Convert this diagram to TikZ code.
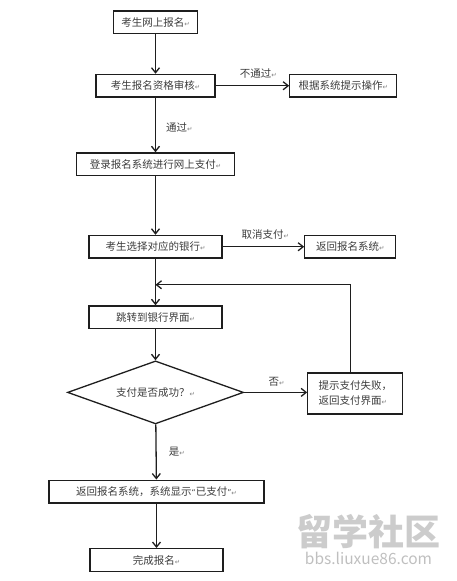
\documentclass[tikz,border=0pt]{standalone}
\usepackage{fontspec}
\setmainfont{Noto Sans CJK SC}
\newfontfamily\markfont{DejaVu Sans}
\usetikzlibrary{arrows.meta,positioning,shapes.geometric}
\definecolor{inkline}{HTML}{1E1E1E}
\definecolor{inktext}{HTML}{3C3C3C}
\newcommand{\retmark}{{\markfont\fontsize{6.5}{6.5}\selectfont\textcolor{gray}{↵}}}
\newcommand{\thinquote}[1]{{\markfont\fontsize{8}{8}\selectfont #1}}
\tikzset{
  stepbox/.style={
    rectangle, draw=inkline, line width=1.3pt,
    minimum height=22.7pt, inner sep=2pt,
    font=\fontsize{10.5}{15}\selectfont, text=inktext, align=center
  },
  choicebox/.style={
    diamond, draw=inkline, line width=1.3pt,
    minimum width=176pt, minimum height=63pt, aspect=2.8, inner sep=0pt,
    font=\fontsize{10.5}{15}\selectfont, text=inktext, align=center
  },
  flowarrow/.style={
    -{Straight Barb[length=5pt,width=8pt,line width=1.3pt]},
    line width=1.3pt, color=inkline
  },
  edgelabel/.style={
    font=\fontsize{10.5}{15}\selectfont, text=inktext, inner sep=0pt
  },
}
\begin{document}
\begin{tikzpicture}
  \useasboundingbox (0,0) rectangle (457pt,-581pt);
  % main column
  \node[stepbox, minimum width=84pt] (apply) at (155.5pt,-22.25pt) {考生网上报名\retmark};
  \node[stepbox, minimum width=119pt, below=39.5pt of apply] (review) {考生报名资格审核\retmark};
  \node[stepbox, minimum width=158pt, below=54.5pt of review] (login) {登录报名系统进行网上支付\retmark};
  \node[stepbox, minimum width=133pt, below=58.5pt of login] (bank) {考生选择对应的银行\retmark};
  \node[stepbox, minimum width=133pt, below=46.5pt of bank] (jump) {跳转到银行界面\retmark};
  \node[choicebox, below=31pt of jump] (paid) {支付是否成功？\retmark};
  \node[stepbox, minimum width=215pt, below=55pt of paid, xshift=1pt] (done) {返回报名系统，系统显示\thinquote{“}已支付\thinquote{”}\retmark};
  \node[stepbox, minimum width=133pt, below=44.5pt of done] (finish) {完成报名\retmark};
  % side boxes
  \node[stepbox, minimum width=107pt, right=73.5pt of review] (guide) {根据系统提示操作\retmark};
  \node[stepbox, minimum width=91pt, right=81.5pt of bank] (back) {返回报名系统\retmark};
  \node[stepbox, minimum width=95pt, minimum height=41pt, align=left, right=63pt of paid, yshift=-1pt] (fail) {提示支付失败，\\返回支付界面\retmark};
  \coordinate[above=20.5pt of jump] (merge) at (jump.north);
  % arrows
  \draw[flowarrow] (apply) -- (review);
  \draw[flowarrow] (review) -- node[edgelabel, right=10pt, yshift=-2pt] (passed) {通过\retmark} (login);
  \draw[flowarrow] (login) -- (bank);
  \draw[flowarrow] (bank) -- (jump);
  \draw[flowarrow] (jump) -- (paid);
  \draw[flowarrow] (paid) -- node[edgelabel, right=12pt] (yes) {是\retmark} (done);
  \draw[flowarrow] (done) -- (finish);
  \draw[flowarrow] (review) -- node[edgelabel, above=7pt, xshift=6pt] (rejected) {不通过\retmark} (guide);
  \draw[flowarrow] (bank) -- node[edgelabel, above=7pt, xshift=2pt] (cancel) {取消支付\retmark} (back);
  \draw[flowarrow] (paid.east) -- node[edgelabel, above=5pt, xshift=1pt] (no) {否\retmark} (paid.east -| fail.west);
  \draw[flowarrow] ([xshift=-5pt]fail.north) |- (merge);
  % watermark
  \node[font=\fontsize{36}{36}\selectfont\bfseries, text=gray!40, inner sep=0pt, text height=30pt, text depth=3pt] (logo) at (368.5pt,-532pt) {留学社区};
  \node[font=\fontsize{15.5}{15.5}\selectfont, text=gray!50, inner sep=0pt, text height=12pt, text depth=1pt, below=4pt of logo] (site) {bbs.liuxue86.com};
\end{tikzpicture}
\end{document}
